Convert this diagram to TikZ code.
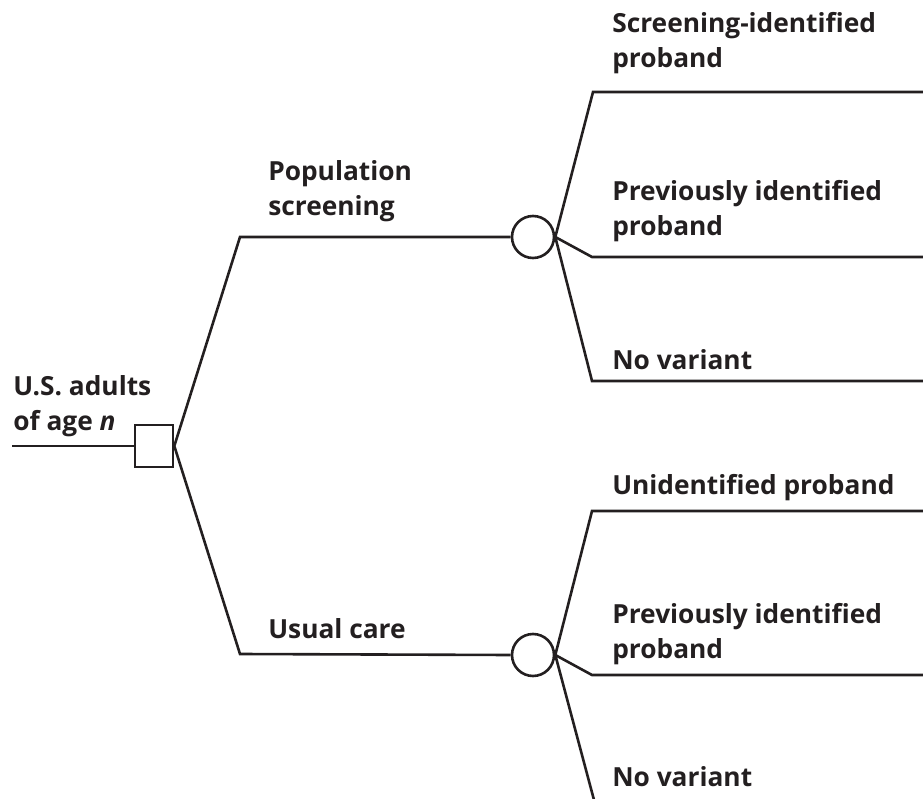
\documentclass[tikz,border=0pt]{standalone}
\usepackage{fontspec}
\setmainfont{Open Sans}
\definecolor{ink}{HTML}{231F20}
\begin{document}
\begin{tikzpicture}[x=1pt,y=-1pt,
  line width=2.6pt, draw=ink, color=ink,
  lbl/.style={anchor=base west, inner sep=0pt, font=\fontsize{26.3}{35}\selectfont\bfseries,
              align=left, text=ink},
  decision/.style={draw, rectangle, minimum width=38pt, minimum height=42pt, inner sep=0pt, fill=white},
  chance/.style={draw, circle, minimum size=42pt, inner sep=0pt, fill=white}]
\useasboundingbox (0,0) rectangle (923,799);

% decision and chance nodes
\node[decision] (dec) at (154,446) {};
\node[chance] (c1) at (533,237) {};
\node[chance] (c2) at (533,655) {};

% bend points and free ends
\coordinate (root) at (12,446);
\coordinate (ps) at (240,237);
\coordinate (uc) at (240,654);
\coordinate (a1) at (593,92);   \coordinate (a1e) at (923,92);
\coordinate (a2) at (592,257);  \coordinate (a2e) at (923,257);
\coordinate (a3) at (592,381);  \coordinate (a3e) at (923,381);
\coordinate (b1) at (592,511);  \coordinate (b1e) at (923,511);
\coordinate (b2) at (592,675);  \coordinate (b2e) at (923,675);
\coordinate (b3) at (594,800);

% connectors
\draw (root) -- (dec.west);
\draw (dec.east) -- (ps) -- (c1.west);
\draw (dec.east) -- (uc) -- (c2.west);
\draw (c1.east) -- (a1) -- (a1e);
\draw (c1.east) -- (a2) -- (a2e);
\draw (c1.east) -- (a3) -- (a3e);
\draw (c2.east) -- (b1) -- (b1e);
\draw (c2.east) -- (b2) -- (b2e);
\draw (c2.east) -- (b3);

% labels (base anchor sits on the last line's baseline)
\node[lbl] (troot) at (12,430) {U.S. adults\\of age \textit{n}};
\node[lbl] (tps) at (267,216) {Population\\screening};
\node[lbl] (tuc) at (267,638) {Usual care};
\node[lbl] (ta1) at (611,68) {Screening-identified\\proband};
\node[lbl] (ta2) at (611,236) {Previously identified\\proband};
\node[lbl] (ta3) at (611,370) {No variant};
\node[lbl] (tb1) at (611,494) {Unidentified proband};
\node[lbl] (tb2) at (611,658) {Previously identified\\proband};
\node[lbl] (tb3) at (611,786) {No variant};
\end{tikzpicture}
\end{document}
